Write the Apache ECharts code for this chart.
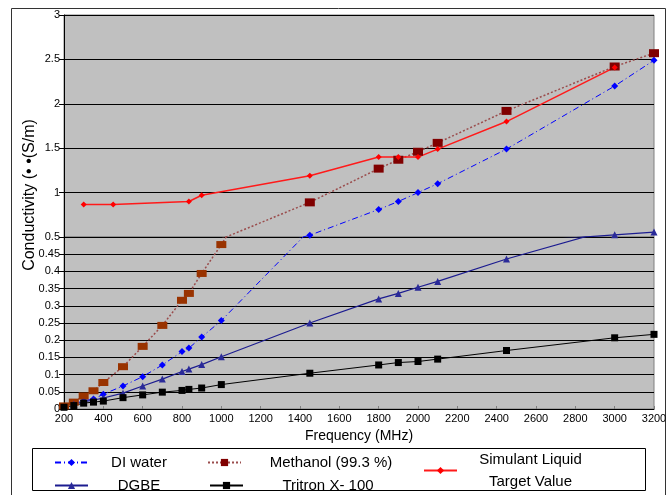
<!DOCTYPE html>
<html><head><meta charset="utf-8">
<script src="https://cdn.jsdelivr.net/npm/echarts@6/dist/echarts.min.js"></script>
<style>html,body{margin:0;padding:0;background:#fff}#c{width:672px;height:495px}</style>
</head><body><div id="c"></div><script>
// ---- data ----
const freqAll = [200,250,300,350,400,500,600,700,800,835,900,1000,1450,1800,1900,2000,2100,2450,3000,3200];
const methanol = [0.009,0.020,0.038,0.053,0.077,0.123,0.182,0.243,0.316,0.336,0.394,0.478,0.89,1.27,1.37,1.46,1.56,1.92,2.42,2.57];
const tritron = [0.005,0.010,0.017,0.020,0.023,0.033,0.041,0.049,0.054,0.057,0.061,0.071,0.104,0.128,0.135,0.138,0.145,0.170,0.207,0.217];
const freqDI = [250,300,350,400,500,600,700,800,835,900,1000,1450,1800,1900,2000,2100,2450,3000,3200];
const diWater = [0.016,0.024,0.029,0.043,0.067,0.094,0.128,0.167,0.177,0.209,0.257,0.52,0.81,0.90,1.00,1.10,1.49,2.20,2.49];
const dgbe = [0.014,0.021,0.026,0.032,0.046,0.067,0.087,0.109,0.116,0.129,0.152,0.250,0.320,0.336,0.354,0.371,0.436,0.525,0.555];
const simFreq = [300,450,835,900,1450,1800,1900,2000,2100,2450,3000];
const simulant = [0.866,0.866,0.90,0.97,1.19,1.40,1.40,1.40,1.49,1.80,2.41];
const names = ['DI water','Methanol (99.3 %)','Simulant Liquid\nTarget Value','DGBE','Tritron X- 100'];
const xTitle = 'Frequency (MHz)';
const yTitle = 'Conductivity (\u2022 \u2022(S/m)';

const FF = '"Liberation Sans", Arial, sans-serif';
const pairs = (xs, ys) => xs.map((x, i) => [x, ys[i]]);

const styles = {
  di:   {symbol:'diamond', symbolSize:7, itemStyle:{color:'#0000ff'}, lineStyle:{color:'#0000ff', width:1, type:[6,3,1,3]}},
  methU:{symbol:'rect', symbolSize:[10,8], itemStyle:{color:'#800000'}, lineStyle:{color:'#9a4c4c', width:1.5, type:[2,2]}},
  methL:{symbol:'rect', symbolSize:[10,7], itemStyle:{color:'#993300'}, lineStyle:{color:'#9a4c4c', width:1.5, type:[2,2]}},
  sim:  {symbol:'diamond', symbolSize:6, itemStyle:{color:'#ff0000'}, lineStyle:{color:'#ff1a1a', width:1.5}},
  dgbe: {symbol:'triangle', symbolSize:7, itemStyle:{color:'#2a2a99'}, lineStyle:{color:'#1c1c90', width:1.2}},
  tri:  {symbol:'rect', symbolSize:7, itemStyle:{color:'#000'}, lineStyle:{color:'#000', width:1}}
};
function mk(name, data, gi, st) {
  return Object.assign({name, type:'line', xAxisIndex:gi, yAxisIndex:gi, data, clip:true,
    showAllSymbol:true, animation:false, emphasis:{disabled:true}}, JSON.parse(JSON.stringify(st)));
}
const series = [];
[0,1].forEach(gi => {
  series.push(mk(names[0], pairs(freqDI, diWater), gi, styles.di));
  series.push(mk(names[1], pairs(freqAll, methanol), gi, gi === 0 ? styles.methU : styles.methL));
  series.push(mk(names[3], pairs(freqDI, dgbe), gi, styles.dgbe));
  series.push(mk(names[4], pairs(freqAll, tritron), gi, styles.tri));
  series.push(mk(names[2], pairs(simFreq, simulant), gi, styles.sim));
});

const xBase = {type:'value', min:200, max:3200, interval:200};
const yCommon = {
  type:'value',
  axisLine:{show:true, lineStyle:{color:'#000', width:1}},
  axisTick:{show:true, length:5, lineStyle:{color:'#000'}},
  splitLine:{show:true, lineStyle:{color:'#000', width:1}},
  axisLabel:{color:'#000', fontSize:11, fontFamily:FF, margin:4}
};
function leg(name, left, top, w) {
  return {
    data:[name], left, top, itemWidth:33, itemHeight:9, selectedMode:false, padding:0,
    formatter: n => n.split('\n').map(s => '{t|' + s + '}').join('\n'),
    textStyle:{color:'#000', fontFamily:FF, fontSize:15,
      rich:{t:{width:w, align:'center', color:'#000', fontFamily:FF, fontSize:15, lineHeight:22}}}
  };
}

const option = {
  backgroundColor:'#fff',
  animation:false,
  grid:[
    {left:64, right:18, top:15, height:222, show:true, backgroundColor:'#c0c0c0', borderColor:'#808080', borderWidth:1},
    {left:64, right:18, top:237, height:172, show:true, backgroundColor:'#c0c0c0', borderColor:'#808080', borderWidth:1}
  ],
  xAxis:[
    Object.assign({gridIndex:0, show:false}, xBase),
    Object.assign({gridIndex:1,
      axisLine:{show:true, lineStyle:{color:'#000'}},
      axisTick:{show:true, inside:true, length:3, lineStyle:{color:'#808080'}},
      splitLine:{show:false},
      axisLabel:{color:'#000', fontSize:11, fontFamily:FF, margin:4, formatter: v => String(v)},
      name:xTitle, nameLocation:'middle', nameGap:20,
      nameTextStyle:{color:'#000', fontSize:14, fontFamily:FF}
    }, xBase)
  ],
  yAxis:[
    Object.assign({gridIndex:0, min:0.5, max:3, interval:0.5}, JSON.parse(JSON.stringify(yCommon)),
      {axisLabel:{color:'#000', fontSize:11, fontFamily:FF, margin:4, formatter: v => v === 0.5 ? '' : String(v)}}),
    Object.assign({gridIndex:1, min:0, max:0.5, interval:0.05}, JSON.parse(JSON.stringify(yCommon)),
      {axisLabel:{color:'#000', fontSize:11, fontFamily:FF, margin:4, formatter: v => String(+v.toFixed(2))}})
  ],
  legend:[
    leg(names[0], 54, 455, 92),
    leg(names[1], 207, 455, 170),
    leg(names[3], 54, 478, 92),
    leg(names[4], 209, 478, 160),
    leg(names[2], 423, 452, 137)
  ],
  graphic:[
    {type:'rect', z:-10, silent:true, shape:{x:11.5, y:8.5, width:654, height:500}, style:{fill:'none', stroke:'#333', lineWidth:1}},
    {type:'rect', z:-5, silent:true, shape:{x:32.5, y:448.5, width:613, height:42}, style:{fill:'#fff', stroke:'#000', lineWidth:1}},
    {type:'text', silent:true, x:30, y:195, rotation:Math.PI/2,
      style:{text:yTitle, fontSize:16, fontFamily:FF, fill:'#000', align:'center', verticalAlign:'middle'}}
  ],
  series
};
const chart = echarts.init(document.getElementById('c'), null, {renderer:'canvas'});
chart.setOption(option);
</script></body></html>
